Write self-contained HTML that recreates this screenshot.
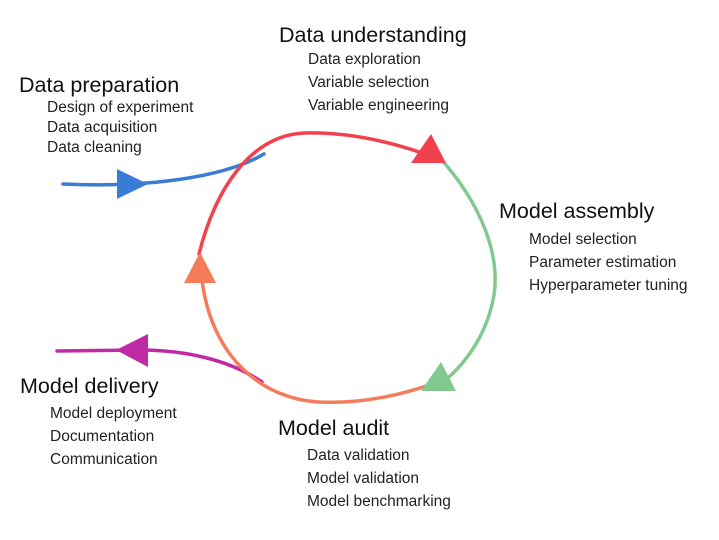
<!DOCTYPE html>
<html><head><style>
body{margin:0;width:719px;height:540px;background:#fff;position:relative;font-family:"Liberation Sans",sans-serif;color:#111;overflow:hidden}
.t{position:absolute;font-size:21.5px;white-space:nowrap}
.s{position:absolute;font-size:15.5px;line-height:23px;white-space:nowrap;color:#222}
</style></head><body>
<svg width="719" height="540" style="position:absolute;left:0;top:0">
<g fill="none" stroke-width="3.5" stroke-linecap="round">
<path d="M63,184 C150,188 225,177 264,154" stroke="#3a7bd5"/>
<path d="M262,382 C230,360 185,350 140,350 L57,351" stroke="#c02aa5"/>
<path d="M438,382 C400,396 360,404 318,402 C265,399 212,360 202,280" stroke="#f47c5a"/>
<path d="M440,158 C482,205 500,255 494,295 C488,330 470,358 448,378" stroke="#82c98f"/>
<path d="M199,254 C215,190 250,135 305,133 C350,132 390,142 422,153" stroke="#f1404e"/>
</g>
<polygon points="117,169 117,199 148,184" fill="#3a7bd5"/>
<polygon points="148,334 148,367 116,350" fill="#c02aa5"/>
<polygon points="200,252 184,283 216,283" fill="#f47c5a"/>
<polygon points="431,134 411,163 446,163" fill="#f1404e"/>
<polygon points="441,362 421,391 456,391" fill="#82c98f"/>
</svg>
<div class="t" style="left:279px;top:23px">Data understanding</div>
<div class="s" style="left:308px;top:48px">Data exploration<br>Variable selection<br>Variable engineering</div>
<div class="t" style="left:19px;top:73px">Data preparation</div>
<div class="s" style="left:47px;top:98px;line-height:20px">Design of experiment<br>Data acquisition<br>Data cleaning</div>
<div class="t" style="left:499px;top:199px">Model assembly</div>
<div class="s" style="left:529px;top:228px">Model selection<br>Parameter estimation<br>Hyperparameter tuning</div>
<div class="t" style="left:20px;top:374px">Model delivery</div>
<div class="s" style="left:50px;top:402px">Model deployment<br>Documentation<br>Communication</div>
<div class="t" style="left:278px;top:416px">Model audit</div>
<div class="s" style="left:307px;top:444px">Data validation<br>Model validation<br>Model benchmarking</div>
</body></html>
